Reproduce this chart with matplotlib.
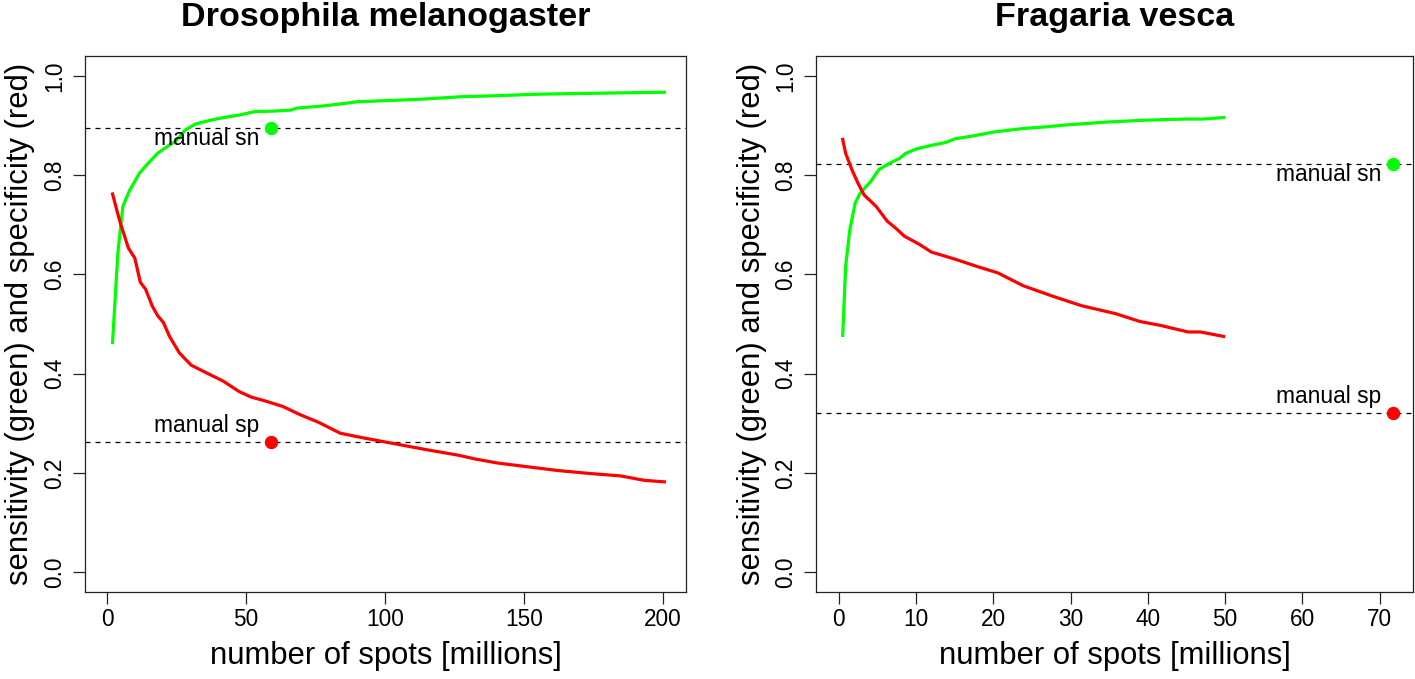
import numpy as np
import matplotlib
matplotlib.use("Agg")
import matplotlib.pyplot as plt

plt.rcParams["font.family"] = ["Liberation Sans", "DejaVu Sans"]

# Drosophila melanogaster: sensitivity (green) / specificity (red) vs spots
dm_x_sn = [2.0, 3.9, 5.7, 8.2, 11.7, 14.5, 18.2, 21.5, 24.6, 28.2, 31.8, 37.5, 42.0,
           47.5, 53.2, 60.0, 66.1, 68.2, 78.9, 90.4, 100.0, 113.2, 127.5, 140.0,
           154.7, 165.0, 176.1, 188.0, 200.5]
dm_sn = [0.463, 0.643, 0.737, 0.770, 0.804, 0.822, 0.844, 0.857, 0.868, 0.891, 0.903,
         0.911, 0.916, 0.921, 0.928, 0.929, 0.931, 0.935, 0.940, 0.948, 0.950, 0.953,
         0.958, 0.960, 0.963, 0.964, 0.965, 0.966, 0.967]
dm_x_sp = [2.0, 4.6, 7.7, 10.0, 12.0, 13.9, 16.3, 18.2, 20.3, 22.5, 26.0, 30.3, 36.0,
           41.8, 47.5, 51.8, 57.5, 63.2, 69.6, 76.1, 83.9, 91.8, 100.4, 114.7, 126.1,
           132.5, 140.4, 150.4, 161.9, 173.3, 184.7, 193.3, 200.5]
dm_sp = [0.762, 0.707, 0.653, 0.633, 0.584, 0.570, 0.536, 0.517, 0.503, 0.475, 0.442,
         0.417, 0.401, 0.385, 0.364, 0.353, 0.344, 0.334, 0.317, 0.302, 0.280, 0.271,
         0.262, 0.247, 0.236, 0.228, 0.220, 0.213, 0.205, 0.199, 0.194, 0.185, 0.182]
dm_manual_x = 59.0
dm_manual_sn = 0.894
dm_manual_sp = 0.263

# Fragaria vesca
fv_x_sn = [0.53, 0.91, 1.45, 2.15, 2.8, 4.15, 5.2, 6.6, 7.9, 8.7, 10.1, 12.0, 13.9,
           15.0, 17.4, 20.1, 23.9, 26.6, 29.3, 34.7, 40.1, 45.0, 47.1, 49.8]
fv_sn = [0.477, 0.616, 0.690, 0.744, 0.764, 0.787, 0.811, 0.824, 0.834, 0.844, 0.853,
         0.860, 0.866, 0.873, 0.879, 0.887, 0.894, 0.897, 0.901, 0.907, 0.911, 0.913,
         0.913, 0.916]
fv_x_sp = [0.53, 0.91, 1.72, 2.5, 3.3, 4.85, 6.3, 7.4, 8.5, 10.4, 12.0, 15.2, 17.9,
           20.6, 23.9, 27.7, 31.4, 35.8, 39.0, 41.7, 45.2, 46.8, 49.8]
fv_sp = [0.872, 0.844, 0.811, 0.784, 0.760, 0.737, 0.707, 0.693, 0.677, 0.661, 0.645,
         0.630, 0.616, 0.603, 0.577, 0.556, 0.537, 0.521, 0.505, 0.497, 0.484, 0.484,
         0.475]
fv_manual_x = 71.7
fv_manual_sn = 0.823
fv_manual_sp = 0.321

y_ticks = [0.0, 0.2, 0.4, 0.6, 0.8, 1.0]
y_ticklabels = ["0.0", "0.2", "0.4", "0.6", "0.8", "1.0"]

GREEN = "#00ff00"
RED = "#ff0000"
PX = 0.72  # points per pixel at dpi 100


def panel(ax, title, x_sn, sn, x_sp, sp, mx, msn, msp, xlim, xticks):
    ax.plot(x_sn, sn, color=GREEN, lw=2.3, solid_joinstyle="round", zorder=3)
    ax.plot(x_sp, sp, color=RED, lw=2.3, solid_joinstyle="round", zorder=3)
    ax.axhline(msn, color="black", lw=0.9, ls=(0, (4, 4)), zorder=2)
    ax.axhline(msp, color="black", lw=0.9, ls=(0, (4, 4)), zorder=2)
    ax.plot([mx], [msn], "o", color=GREEN, ms=8.6, zorder=4)
    ax.plot([mx], [msp], "o", color=RED, ms=8.6, zorder=4)
    ax.annotate("manual sn", (mx, msn), xytext=(-12 * PX, -17 * PX),
                textcoords="offset points", ha="right", va="baseline", fontsize=16.4)
    ax.annotate("manual sp", (mx, msp), xytext=(-12 * PX, 10 * PX),
                textcoords="offset points", ha="right", va="baseline", fontsize=16.4)

    ax.set_xlim(*xlim)
    ax.set_ylim(-0.04, 1.04)
    ax.set_xticks(xticks)
    ax.set_yticks(y_ticks)
    ax.set_yticklabels(y_ticklabels)
    ax.tick_params(length=12 * PX, width=0.9, labelsize=16.3, pad=4 * PX, color="#222222")
    ax.tick_params(axis="y", labelrotation=90, pad=7 * PX)
    for lab in ax.get_yticklabels():
        lab.set_verticalalignment("center")
    for s in ax.spines.values():
        s.set_linewidth(0.9)
        s.set_color("#222222")

    ax.set_xlabel("number of spots [millions]", fontsize=22.3)
    ax.xaxis.set_label_coords(0.5, -0.119)
    ax.xaxis.label.set_verticalalignment("center")
    ax.set_ylabel("sensitivity (green) and specificity (red)", fontsize=22.3)
    ax.yaxis.set_label_coords(-0.108, 0.5)
    ax.yaxis.label.set_verticalalignment("center")
    ax.text(0.5, 1.071, title, transform=ax.transAxes, ha="center", va="center",
            fontsize=24.6, fontweight="bold")


fig = plt.figure(figsize=(14.15, 6.79), dpi=100)
ax1 = fig.add_axes([0.0601, 0.1281, 0.4247, 0.7894])
ax2 = fig.add_axes([0.5767, 0.1281, 0.4219, 0.7894])

panel(ax1, "Drosophila melanogaster", dm_x_sn, dm_sn, dm_x_sp, dm_sp,
      dm_manual_x, dm_manual_sn, dm_manual_sp, (-7.9, 208.3), [0, 50, 100, 150, 200])
panel(ax2, "Fragaria vesca", fv_x_sn, fv_sn, fv_x_sp, fv_sp,
      fv_manual_x, fv_manual_sn, fv_manual_sp, (-2.92, 74.3), [0, 10, 20, 30, 40, 50, 60, 70])

fig.savefig("out.png", dpi=100)
